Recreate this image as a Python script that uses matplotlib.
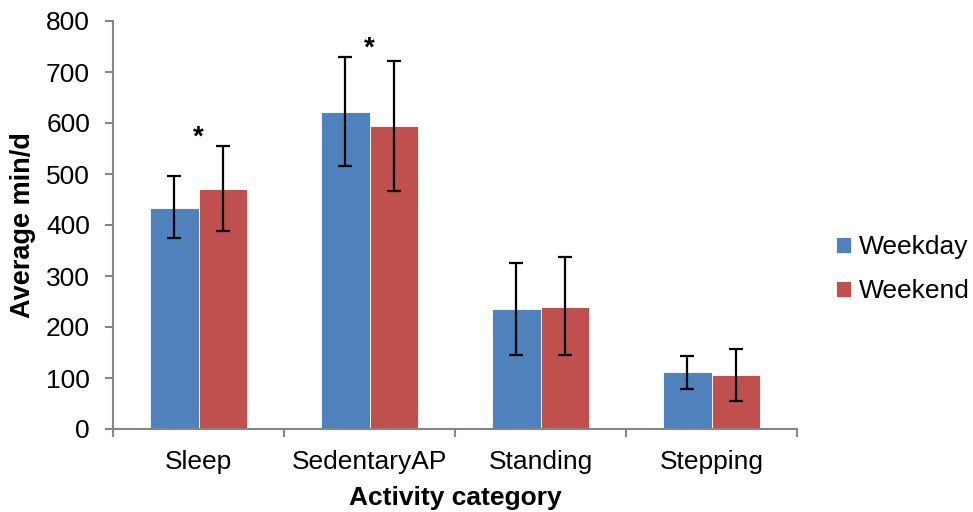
import numpy as np
import matplotlib.pyplot as plt

plt.rcParams['font.family'] = ['Liberation Sans', 'DejaVu Sans']

categories = ['Sleep', 'SedentaryAP', 'Standing', 'Stepping']
weekday = [434, 621, 235, 111]
weekend = [470, 594, 240, 105]
weekday_lo = [374, 515, 145, 79]
weekday_hi = [497, 730, 325, 144]
weekend_lo = [388, 467, 145, 55]
weekend_hi = [555, 721, 338, 157]
starred = ['Sleep', 'SedentaryAP']

blue = '#4F81BD'
red = '#C0504D'
grey = '#868686'
fs = 19

fig = plt.figure(figsize=(9.73, 5.12), dpi=100)
ax = fig.add_axes([113 / 973, 1 - 429 / 512, 684 / 973, 408 / 512])

x = np.arange(len(categories))
w = 0.285
wd = np.array(weekday)
we = np.array(weekend)
wd_err = [wd - np.array(weekday_lo), np.array(weekday_hi) - wd]
we_err = [we - np.array(weekend_lo), np.array(weekend_hi) - we]

ax.bar(x - w / 2, wd, w, color=blue, edgecolor='white', linewidth=0.6,
       label='Weekday', zorder=2)
ax.bar(x + w / 2, we, w, color=red, edgecolor='white', linewidth=0.6,
       label='Weekend', zorder=2)
ax.errorbar(x - w / 2, wd, yerr=wd_err, fmt='none', ecolor='black',
            elinewidth=1.6, capsize=5, capthick=1.6, zorder=3)
ax.errorbar(x + w / 2, we, yerr=we_err, fmt='none', ecolor='black',
            elinewidth=1.6, capsize=5, capthick=1.6, zorder=3)

# significance markers above the taller error bar of the pair
for name in starred:
    i = categories.index(name)
    top = max(weekday_hi[i], weekend_hi[i])
    ax.text(x[i], top + 3, '*', ha='center', va='baseline', fontsize=20,
            fontweight='bold')

ax.set_xlim(-0.5, len(categories) - 0.5)
ax.set_ylim(0, 800)
ax.set_yticks(range(0, 801, 100))
ax.set_xticks(x)
ax.set_xticklabels(categories, fontsize=fs)
ax.set_xticks(np.arange(-0.5, len(categories), 1.0), minor=True)
ax.tick_params(axis='x', which='major', length=0, pad=15)
ax.tick_params(axis='x', which='minor', length=6, width=1.5, color=grey)
ax.tick_params(axis='y', length=5.5, width=1.5, color=grey, labelsize=fs, pad=11)

for s in ['top', 'right']:
    ax.spines[s].set_visible(False)
for s in ['left', 'bottom']:
    ax.spines[s].set_color(grey)
    ax.spines[s].set_linewidth(1.5)

ax.set_xlabel('Activity category', fontsize=fs, fontweight='bold', labelpad=9)
ax.set_ylabel('Average min/d', fontsize=19.5, fontweight='bold', labelpad=7)

fig.legend(loc='center left', bbox_to_anchor=(836 / 973, 1 - 269 / 512),
           frameon=False, fontsize=fs, handlelength=0.55, handleheight=0.55,
           handletextpad=0.3, labelspacing=0.75, borderaxespad=0,
           borderpad=0)

fig.savefig('out.png', dpi=100)
